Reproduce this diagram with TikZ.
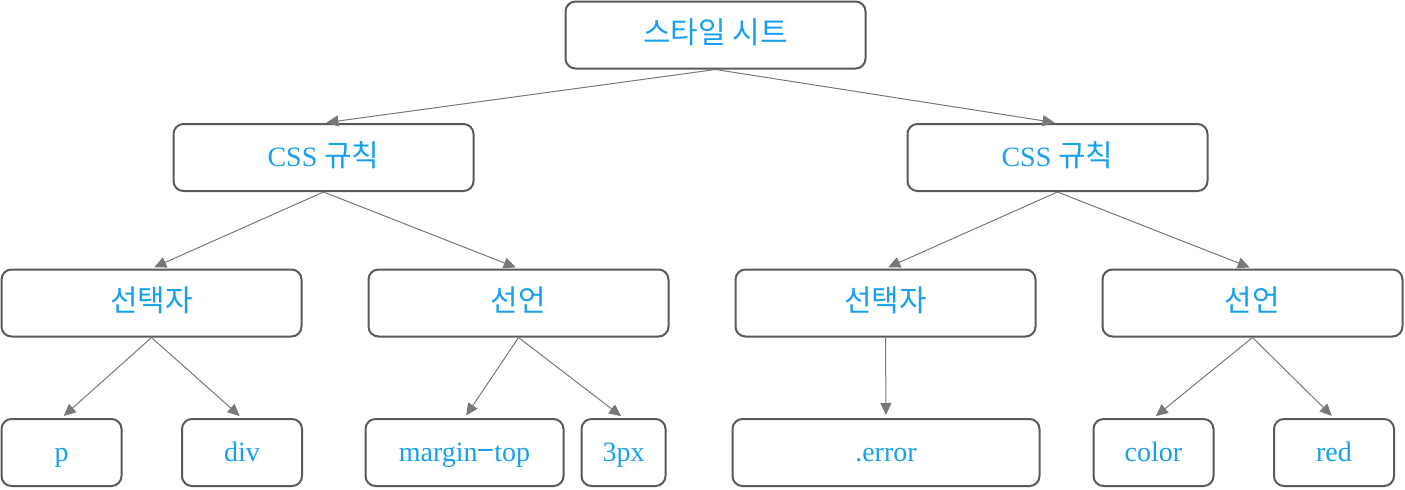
\documentclass[tikz,border=0pt]{standalone}
\usepackage{fontspec}
\setmainfont{Liberation Serif}
\newfontfamily\kr{Noto Sans CJK KR}[Scale=1.07]
\usetikzlibrary{arrows.meta}
\definecolor{txtblue}{RGB}{24,160,240}
\definecolor{boxgray}{RGB}{90,90,90}
\definecolor{linegray}{RGB}{120,120,120}

\begin{document}
\begin{tikzpicture}[x=0.5pt,y=-0.5pt]
    \tikzstyle{box}=[draw=boxgray, line width=1pt, rounded corners=5pt, fill=white,
      text=txtblue, font=\fontsize{14}{16}\selectfont, inner sep=0pt,
      text height=11pt, text depth=2.5pt, minimum height=33.5pt]
    \tikzstyle{wide}=[box, minimum width=150pt]
    \tikzstyle{link}=[draw=linegray, line width=0.5pt, -{Triangle[length=6pt,width=5.5pt]}, shorten >=1.5pt]
    \useasboundingbox (0,0) rectangle (1405,489);
    % top
    \node[wide] (sheet) at (715.5,35) {\kr 스타일 시트};
    % rules
    \node[wide] (ruleA) at (323.5,157.5) {CSS {\kr 규칙}};
    \node[wide] (ruleB) at (1057.5,157.5) {CSS {\kr 규칙}};
    % selectors and declarations
    \node[wide] (selA) at (151.5,303) {\kr 선택자};
    \node[wide] (declA) at (518.5,303) {\kr 선언};
    \node[wide] (selB) at (885.5,303) {\kr 선택자};
    \node[wide] (declB) at (1252.5,303) {\kr 선언};
    % leaves
    \node[box, minimum width=60pt] (p) at (61.5,452.5) {p};
    \node[box, minimum width=60pt] (div) at (242,452.5) {div};
    \node[box, minimum width=99pt] (prop) at (464.5,452.5) {margin{\kr −}top};
    \node[box, minimum width=42pt] (val) at (623.5,452.5) {3px};
    \node[box, minimum width=153.5pt] (err) at (886,452.5) {.error};
    \node[box, minimum width=60pt] (col) at (1153.5,452.5) {color};
    \node[box, minimum width=60pt] (red) at (1334,452.5) {red};

    \draw[link] (sheet.south) -- (ruleA.north);
    \draw[link] (sheet.south) -- (ruleB.north);
    \draw[link] (ruleA.south) -- (selA.north);
    \draw[link] (ruleA.south) -- (declA.north);
    \draw[link] (ruleB.south) -- (selB.north);
    \draw[link] (ruleB.south) -- (declB.north);
    \draw[link] (selA.south) -- (p.north);
    \draw[link] (selA.south) -- (div.north);
    \draw[link] (declA.south) -- (prop.north);
    \draw[link] (declA.south) -- (val.north);
    \draw[link] (selB.south) -- (err.north);
    \draw[link] (declB.south) -- (col.north);
    \draw[link] (declB.south) -- (red.north);
\end{tikzpicture}
\end{document}
